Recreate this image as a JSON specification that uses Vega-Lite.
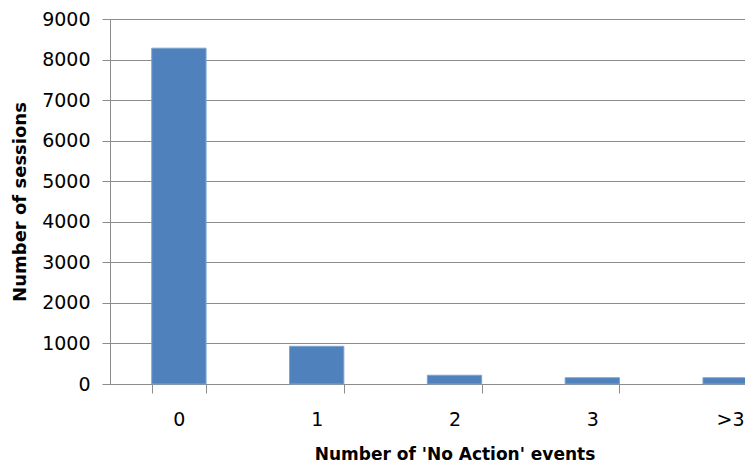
{
  "$schema": "https://vega.github.io/schema/vega-lite/v6.json",
  "autosize": "none",
  "padding": {"left": 110, "top": 19, "right": 0, "bottom": 88},
  "width": 689,
  "height": 365,
  "background": "white",
  "data": {
    "values": [
      {"events": "0", "sessions": 8280},
      {"events": "1", "sessions": 930},
      {"events": "2", "sessions": 215},
      {"events": "3", "sessions": 155},
      {"events": ">3", "sessions": 155}
    ]
  },
  "mark": {"type": "bar", "color": "#4F81BD", "stroke": "#7DA2D1", "strokeWidth": 1},
  "encoding": {
    "x": {
      "field": "events",
      "type": "nominal",
      "sort": null,
      "scale": {"paddingInner": 0.606, "paddingOuter": 0.303},
      "axis": {
        "title": "Number of 'No Action' events",
        "titleFont": "DejaVu Sans",
        "titleFontWeight": "bold",
        "titleFontSize": 17,
        "titleColor": "black",
        "titlePadding": 17,
        "labelFont": "DejaVu Sans",
        "labelFontSize": 19,
        "labelColor": "black",
        "labelAngle": 0,
        "labelPadding": 17,
        "tickBand": "extent",
        "tickSize": 9,
        "tickColor": "#8C8C8C",
        "domainColor": "#8C8C8C",
        "grid": false
      }
    },
    "y": {
      "field": "sessions",
      "type": "quantitative",
      "scale": {"domain": [0, 9000], "nice": false},
      "axis": {
        "title": "Number of sessions",
        "titleFont": "DejaVu Sans",
        "titleFontWeight": "bold",
        "titleFontSize": 18,
        "titleColor": "black",
        "titlePadding": 12,
        "labelFont": "DejaVu Sans",
        "labelFontSize": 19,
        "labelColor": "black",
        "labelPadding": 12,
        "values": [0, 1000, 2000, 3000, 4000, 5000, 6000, 7000, 8000, 9000],
        "format": "d",
        "tickSize": 8,
        "tickColor": "#8C8C8C",
        "domainColor": "#8C8C8C",
        "gridColor": "#8C8C8C",
        "grid": true
      }
    }
  },
  "config": {"view": {"stroke": null}}
}
